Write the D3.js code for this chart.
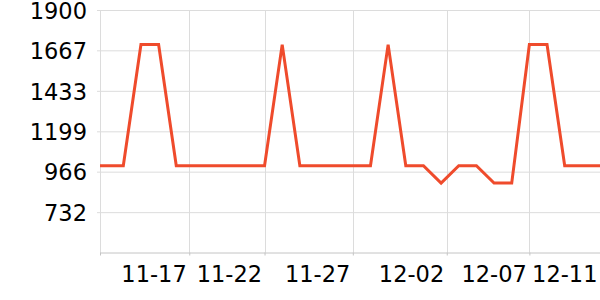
<!DOCTYPE html>
<html>
<head>
<meta charset="utf-8">
<script src="https://cdn.jsdelivr.net/npm/d3@7"></script>
<style>
  body { margin: 0; background: #fff; }
  svg text { font-family: "DejaVu Sans", sans-serif; }
</style>
</head>
<body>
<svg id="canvas"></svg>
<script>
let dates = [
  "2023-11-12T16:20", "2023-11-14", "2023-11-15", "2023-11-16", "2023-11-17",
  "2023-11-18", "2023-11-19", "2023-11-20", "2023-11-21", "2023-11-22",
  "2023-11-23", "2023-11-24", "2023-11-25", "2023-11-26", "2023-11-27",
  "2023-11-28", "2023-11-29", "2023-11-30", "2023-12-01", "2023-12-02",
  "2023-12-03", "2023-12-04", "2023-12-05", "2023-12-06", "2023-12-07",
  "2023-12-08", "2023-12-09", "2023-12-10", "2023-12-11"
];
let values = [
  1000, 1000, 1700, 1700, 1000,
  1000, 1000, 1000, 1000, 1000,
  1700, 1000, 1000, 1000, 1000,
  1000, 1700, 1000, 1000, 900,
  1000, 1000, 900, 900, 1700,
  1700, 1000, 1000, 1000
];
let yTicks = [732, 966, 1199, 1433, 1667, 1900];
let xTicks = [
  "2023-11-12T16:20", "2023-11-17T17:40", "2023-11-22", "2023-11-27",
  "2023-12-02T07:40", "2023-12-07", "2023-12-11"
];
let xLabels = ["", "11-17", "11-22", "11-27", "12-02", "12-07", "12-11"];

let width = 600;
let height = 300;
let padLeft = 100;
let padRight = 600;
let padTop = 10;
let padBottom = 252.5;

let parse = (s) => new Date(s);

let canvas = d3.select("#canvas").attr("width", width).attr("height", height);

let xScale = d3
  .scaleTime()
  .domain([parse(dates[0]), parse(dates[dates.length - 1])])
  .range([padLeft, padRight]);
let yScale = d3.scaleLinear().domain([499, 1900]).range([padBottom, padTop]);

// horizontal grid + y labels
let yAxis = d3
  .axisLeft(yScale)
  .tickValues(yTicks)
  .tickSize(-(padRight - padLeft) - 3)
  .tickFormat(d3.format("d"));

let gy = canvas
  .append("g")
  .attr("transform", "translate(" + (padLeft - 3) + ",0)")
  .call(yAxis);
gy.select(".domain").remove();
gy.selectAll("line").attr("stroke", "#dcdcdc");
gy.selectAll("text")
  .attr("fill", "#000")
  .style("font-size", "22.5px")
  .attr("x", -10)
  .attr("dy", "0.37em");

// vertical grid
canvas
  .append("g")
  .selectAll("line")
  .data(xTicks)
  .enter()
  .append("line")
  .attr("x1", (d) => Math.round(xScale(parse(d))) + 0.5)
  .attr("x2", (d) => Math.round(xScale(parse(d))) + 0.5)
  .attr("y1", padTop)
  .attr("y2", padBottom)
  .attr("stroke", "#dcdcdc");

// x axis
let xAxis = d3
  .axisBottom(xScale)
  .tickValues(xTicks.map(parse))
  .tickSize(3)
  .tickFormat((d, i) => xLabels[i]);

let gx = canvas
  .append("g")
  .attr("transform", "translate(0," + padBottom + ")")
  .call(xAxis);
gx.select(".domain").attr("stroke", "#c4c4c4").attr("d", "M" + padLeft + ",0.5H" + padRight);
gx.selectAll(".tick line").attr("stroke", "#c4c4c4");
gx.selectAll("text")
  .attr("fill", "#000")
  .style("font-size", "22.5px")
  .attr("text-anchor", "end")
  .attr("x", -3)
  .attr("y", 13.5);

// line
let line = d3
  .line()
  .x((d, i) => xScale(parse(dates[i])))
  .y((d) => yScale(d));

canvas
  .append("path")
  .datum(values)
  .attr("fill", "none")
  .attr("stroke", "#ef4b2c")
  .attr("stroke-width", 3)
  .attr("d", line);
</script>
</body>
</html>
